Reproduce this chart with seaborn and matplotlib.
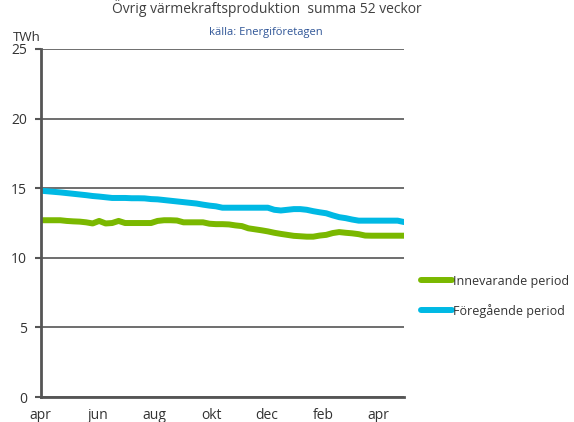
import seaborn as sns
import matplotlib.pyplot as plt
import pandas as pd

# weekly values, rolling 52-week sum (TWh)
innevarande = [12.7, 12.7, 12.7, 12.7, 12.65, 12.62, 12.6, 12.55, 12.47, 12.65,
               12.47, 12.5, 12.65, 12.5, 12.5, 12.5, 12.5, 12.5, 12.65, 12.7,
               12.7, 12.68, 12.55, 12.55, 12.55, 12.55, 12.45, 12.42, 12.42, 12.4,
               12.33, 12.28, 12.12, 12.05, 11.98, 11.9, 11.8, 11.72, 11.65, 11.58,
               11.55, 11.52, 11.52, 11.6, 11.65, 11.78, 11.85, 11.8, 11.76, 11.7,
               11.6, 11.59, 11.59, 11.59, 11.59, 11.59, 11.59]
foregaende = [14.82, 14.78, 14.74, 14.7, 14.65, 14.6, 14.55, 14.5, 14.44, 14.4,
              14.35, 14.3, 14.3, 14.3, 14.28, 14.28, 14.27, 14.22, 14.2, 14.15,
              14.1, 14.05, 14.0, 13.95, 13.9, 13.82, 13.75, 13.7, 13.6, 13.6,
              13.6, 13.6, 13.6, 13.6, 13.6, 13.6, 13.45, 13.4, 13.45, 13.5,
              13.5, 13.45, 13.35, 13.27, 13.2, 13.05, 12.92, 12.85, 12.75, 12.67,
              12.67, 12.67, 12.67, 12.67, 12.67, 12.67, 12.57]
month_labels = ['apr', 'jun', 'aug', 'okt', 'dec', 'feb', 'apr']
month_pos = [0, 8.9, 17.5, 26.3, 34.8, 43.5, 52]

weeks = list(range(len(innevarande)))
df = pd.DataFrame({
    'vecka': weeks * 2,
    'TWh': innevarande + foregaende,
    'serie': ['Innevarande period'] * len(weeks) + ['Föregående period'] * len(weeks),
})

sns.set_style('white')
plt.rcParams['font.family'] = ['Open Sans', 'DejaVu Sans']

fig = plt.figure(figsize=(5.74, 4.22), dpi=100)
ax = fig.add_axes([0.071, 0.059, 0.633, 0.825])
sns.lineplot(data=df, x='vecka', y='TWh', hue='serie',
             palette={'Innevarande period': '#7ab800', 'Föregående period': '#00b9e4'},
             linewidth=4.3, ax=ax, legend=True)

ax.set_xlim(0, len(weeks) - 1)
ax.set_ylim(0, 25)
ax.set_yticks([0, 5, 10, 15, 20, 25])
ax.set_xticks(month_pos)
ax.set_xticklabels(month_labels)
ax.yaxis.grid(True, color='#555555', linewidth=1.2)
ax.set_axisbelow(True)
for s in ['top', 'right']:
    ax.spines[s].set_visible(False)
ax.spines['left'].set_color('#555555')
ax.spines['left'].set_linewidth(2)
ax.spines['bottom'].set_color('#555555')
ax.spines['bottom'].set_linewidth(2)
ax.tick_params(axis='y', length=4, width=1.5, color='#555555', labelsize=10,
               labelcolor='#333333', pad=6, left=True)
ax.tick_params(axis='x', length=0, labelsize=10, labelcolor='#333333', pad=8)
ax.set_xlabel('')
ax.set_ylabel('')

fig.text(0.465, 0.98, 'Övrig värmekraftsproduktion  summa 52 veckor',
         ha='center', va='center', fontsize=10, color='#404040')
fig.text(0.463, 0.924, 'källa: Energiföretagen', ha='center', va='center',
         fontsize=8, color='#2f5597')
fig.text(0.022, 0.91, 'TWh', ha='left', va='center', fontsize=9.5, color='#333333')

ax.legend(loc='center left', bbox_to_anchor=(1.015, 0.29), frameon=False,
          handlelength=2.5, handletextpad=0.05, labelspacing=1.3,
          fontsize=9, labelcolor='#333333')

plt.savefig('out.png', dpi=100)
